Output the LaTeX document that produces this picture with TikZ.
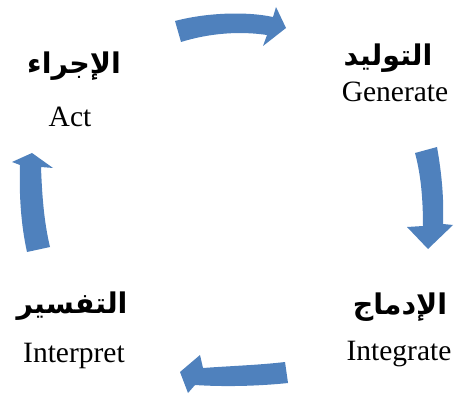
\documentclass[tikz,border=0pt]{standalone}
\usepackage{fontspec}
\setmainfont{Liberation Serif}
\newfontfamily\arabicfont[Script=Arabic]{DejaVu Sans}
\TeXXeTstate=1
\definecolor{cycleblue}{RGB}{79,129,189}
\begin{document}
\begin{tikzpicture}[x=1pt,y=-1pt,
  cyclearrow/.style={fill=cycleblue,draw=none},
  en/.style={font=\fontsize{29.5}{31}\selectfont, anchor=base, inner sep=0pt},
  ar/.style={font=\arabicfont\bfseries\fontsize{28.5}{30}\selectfont, inner sep=0pt}]
\useasboundingbox (0,0) rectangle (456,396);

% top arrow, pointing right
\fill[cyclearrow] (175,21) .. controls (205,13) and (245,11) .. (273,17)
  -- (276,7) -- (286,28) -- (263,46) -- (267,35)
  .. controls (240,31) and (210,33) .. (181,42) -- cycle;
% right arrow, pointing down
\fill[cyclearrow] (415,153) -- (437,147) .. controls (442,175) and (444,200) .. (443,224)
  -- (453,225) -- (428,249) -- (407,227) -- (423,226)
  .. controls (423,200) and (421,175) .. (415,153) -- cycle;
% bottom arrow, pointing left
\fill[cyclearrow] (285,362) -- (288,383) .. controls (260,386) and (225,387) .. (195,385)
  -- (188,393) -- (180,372) -- (200,355) -- (203,368)
  .. controls (230,366) and (260,365) .. (285,362) -- cycle;
% left arrow, pointing up
\fill[cyclearrow] (20,165) .. controls (19,195) and (21,225) .. (27,252)
  -- (50,247) .. controls (44,222) and (42,195) .. (41,167)
  -- (53,168) -- (32,153) -- (12,162) -- cycle;

% stage labels
\node[ar] (actar) at (74,66) {\beginR الإجراء\endR};
\node[en] (acten) at (70,127) {Act};
\node[ar] (genar) at (388,58) {\beginR التوليد\endR};
\node[en] (genen) at (395,102) {Generate};
\node[ar] (intar) at (400,307) {\beginR الإدماج\endR};
\node[en] (integ) at (399,360) {Integrate};
\node[ar] (intpar) at (72,306) {\beginR التفسير\endR};
\node[en] (intpen) at (74,362) {Interpret};
\end{tikzpicture}
\end{document}
